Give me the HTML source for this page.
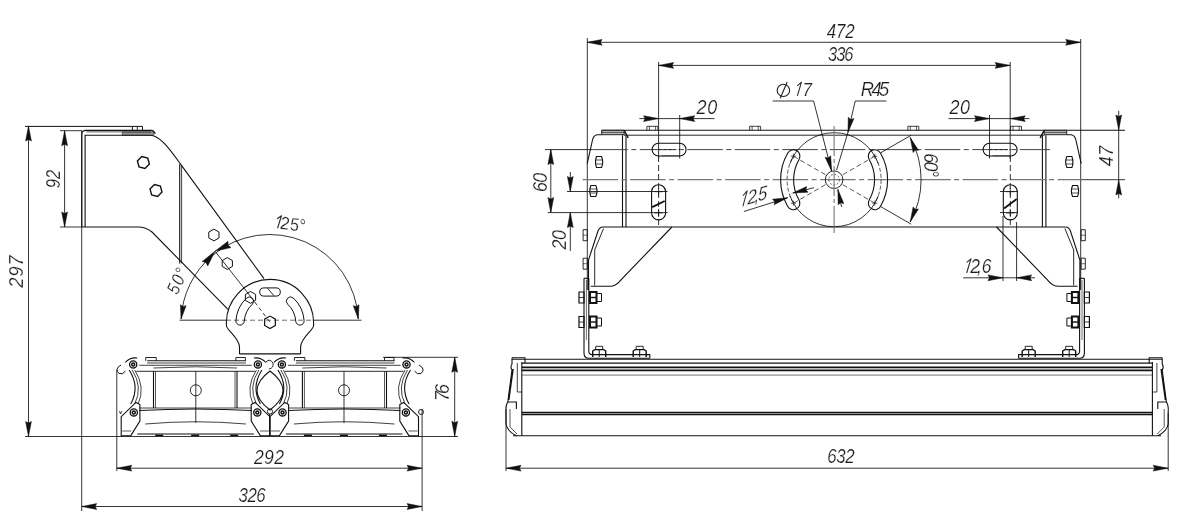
<!DOCTYPE html>
<html><head><meta charset="utf-8"><style>
html,body{margin:0;padding:0;background:#fff;}
svg{display:block;will-change:transform;}
</style></head><body>
<svg width="1200" height="519" viewBox="0 0 1200 519">
<rect width="1200" height="519" fill="#fff"/>
<line x1="25.00" y1="126.40" x2="132.40" y2="126.40" stroke="#111" stroke-width="1.0"/>
<line x1="28.50" y1="126.00" x2="28.50" y2="436.50" stroke="#111" stroke-width="0.85"/>
<path d="M28.50,126.00 L25.60,141.00 L28.50,139.50 L31.40,141.00 Z" fill="#111" stroke="#111" stroke-width="0.5"/>
<path d="M28.50,436.50 L31.40,421.50 L28.50,423.00 L25.60,421.50 Z" fill="#111" stroke="#111" stroke-width="0.5"/>
<line x1="25.00" y1="436.50" x2="458.00" y2="436.50" stroke="#111" stroke-width="0.85"/>
<text transform="translate(16.20,271.50) rotate(-90) scale(0.95,1)" x="0" y="7.00" font-size="19.55" text-anchor="middle" textLength="34.1" lengthAdjust="spacing" font-family="Liberation Sans, sans-serif" font-style="italic" fill="#1c1c1c" stroke="#fff" stroke-width="0.2">297</text>
<line x1="60.00" y1="130.70" x2="82.00" y2="130.70" stroke="#111" stroke-width="0.85"/>
<line x1="60.00" y1="227.00" x2="82.00" y2="227.00" stroke="#111" stroke-width="0.85"/>
<line x1="64.60" y1="130.70" x2="64.60" y2="227.00" stroke="#111" stroke-width="0.85"/>
<path d="M64.60,130.70 L61.70,145.70 L64.60,144.20 L67.50,145.70 Z" fill="#111" stroke="#111" stroke-width="0.5"/>
<path d="M64.60,227.00 L67.50,212.00 L64.60,213.50 L61.70,212.00 Z" fill="#111" stroke="#111" stroke-width="0.5"/>
<text transform="translate(52.70,179.10) rotate(-90) scale(0.84,1)" x="0" y="7.00" font-size="19.55" text-anchor="middle" textLength="21.7" lengthAdjust="spacing" font-family="Liberation Sans, sans-serif" font-style="italic" fill="#1c1c1c" stroke="#fff" stroke-width="0.2">92</text>
<line x1="81.70" y1="130.70" x2="81.70" y2="511.00" stroke="#111" stroke-width="0.85"/>
<path d="M132.40,130.40 L132.40,126.40 L142.50,126.40 L142.50,130.40" stroke="#111" stroke-width="1.0" fill="none"/>
<line x1="137.30" y1="126.40" x2="137.30" y2="130.40" stroke="#111" stroke-width="0.9"/>
<path d="M122.3,131.9 L153.8,131.9 L153.8,135.3 L122.3,135.3 Z" stroke="#111" stroke-width="0.5" fill="#999"/>
<line x1="86.30" y1="131.90" x2="151.00" y2="131.90" stroke="#111" stroke-width="0.7"/>
<path d="M81.8,227 L81.8,134 Q82,130.4 86,130.4 L151.5,130.4 Q154,130.6 155.3,133.8" stroke="#111" stroke-width="1.1" fill="none"/>
<path d="M85.1,227 L85.1,135.3 L150,135.3 C160,135.3 170,149.7 180,163.4 L264,278.6" stroke="#111" stroke-width="1.1" fill="none"/>
<line x1="179.70" y1="164.30" x2="179.70" y2="263.40" stroke="#111" stroke-width="1.1"/>
<line x1="181.60" y1="166.00" x2="181.60" y2="263.40" stroke="#111" stroke-width="0.8"/>
<path d="M82,227 L138,227 Q146,227 152,232 L228,309.3" stroke="#111" stroke-width="1.1" fill="none"/>
<path d="M149.39,164.10 L145.00,168.49 L139.02,166.88 L137.41,160.90 L141.80,156.51 L147.78,158.12 Z" stroke="#111" stroke-width="1.4" fill="none"/>
<path d="M161.99,192.10 L157.60,196.49 L151.62,194.88 L150.01,188.90 L154.40,184.51 L160.38,186.12 Z" stroke="#111" stroke-width="1.4" fill="none"/>
<path d="M219.01,237.95 L213.90,240.90 L208.79,237.95 L208.79,232.05 L213.90,229.10 L219.01,232.05 Z" stroke="#111" stroke-width="1.0" fill="none"/>
<path d="M232.41,266.45 L227.30,269.40 L222.19,266.45 L222.19,260.55 L227.30,257.60 L232.41,260.55 Z" stroke="#111" stroke-width="1.0" fill="none"/>
<path d="M255.61,300.35 L250.50,303.30 L245.39,300.35 L245.39,294.45 L250.50,291.50 L255.61,294.45 Z" stroke="#111" stroke-width="1.0" fill="none"/>
<line x1="215.00" y1="251.20" x2="250.50" y2="296.40" stroke="#111" stroke-width="0.85"/>
<line x1="250.50" y1="296.40" x2="270.00" y2="322.30" stroke="#111" stroke-width="0.85" stroke-dasharray="4,3"/>
<path d="M181.10,319.02 A88.70,88.70 0 0 1 212.09,255.75" stroke="#111" stroke-width="0.85" fill="none"/>
<path d="M212.09,255.75 A88.70,88.70 0 0 1 358.30,319.02" stroke="#111" stroke-width="0.85" fill="none"/>
<path d="M215.00,251.20 L202.27,261.51 L206.01,262.45 L207.74,265.88 Z" fill="#111" stroke="#111" stroke-width="0.5"/>
<path d="M215.00,251.20 L230.98,247.62 L228.05,245.12 L228.03,241.27 Z" fill="#111" stroke="#111" stroke-width="0.5"/>
<path d="M181.10,319.02 L186.12,305.63 L183.04,306.57 L180.39,304.74 Z" fill="#111" stroke="#111" stroke-width="0.5"/>
<path d="M358.30,319.02 L359.01,304.74 L356.36,306.57 L353.28,305.63 Z" fill="#111" stroke="#111" stroke-width="0.5"/>
<line x1="179.50" y1="320.20" x2="226.00" y2="320.20" stroke="#111" stroke-width="0.85"/>
<line x1="226.00" y1="320.20" x2="314.00" y2="320.20" stroke="#555" stroke-width="0.85" stroke-dasharray="5,3"/>
<line x1="314.00" y1="320.20" x2="361.50" y2="320.20" stroke="#111" stroke-width="0.85"/>
<text transform="translate(177.00,280.90) rotate(-66) scale(0.85,1)" x="0" y="6.50" font-size="18.16" text-anchor="middle" textLength="30.9" lengthAdjust="spacing" font-family="Liberation Sans, sans-serif" font-style="italic" fill="#1c1c1c" stroke="#fff" stroke-width="0.2">50°</text>
<g transform="translate(290.50,223.60) rotate(0) skewY(8)"><path d="M-12.95,6.50 L-9.05,-6.50 L-13.25,-2.90" stroke="#2a2a2a" stroke-width="1.1" fill="none" stroke-linejoin="round"/><text transform="translate(-5.60,0) scale(0.9,1)" x="0" y="6.50" font-size="18.16" text-anchor="middle" font-family="Liberation Sans, sans-serif" font-style="italic" fill="#1c1c1c" stroke="#fff" stroke-width="0.2">2</text><text transform="translate(3.80,0) scale(0.9,1)" x="0" y="6.50" font-size="18.16" text-anchor="middle" font-family="Liberation Sans, sans-serif" font-style="italic" fill="#1c1c1c" stroke="#fff" stroke-width="0.2">5</text><text transform="translate(11.80,0) scale(0.9,1)" x="0" y="6.50" font-size="18.16" text-anchor="middle" font-family="Liberation Sans, sans-serif" font-style="italic" fill="#1c1c1c" stroke="#fff" stroke-width="0.2">°</text></g>
<path d="M239.5,354 L239.5,347 C239.5,338 226.80,330 226.50,325.97 A43.6,43.6 0 1 1 313.50,325.97 C313.20,330 300.6,338 300.6,347 L300.6,354" stroke="#111" stroke-width="1.1" fill="none"/>
<line x1="239.50" y1="353.90" x2="300.60" y2="353.90" stroke="#111" stroke-width="1.1"/>
<path d="M263.80,296.10 L276.20,296.10 A4.1,4.1 0 0 0 276.20,287.90 L263.80,287.90 A4.1,4.1 0 0 0 263.80,296.10 Z" stroke="#111" stroke-width="1.0" fill="none"/>
<line x1="267.50" y1="288.20" x2="274.00" y2="295.80" stroke="#111" stroke-width="0.9"/>
<path d="M246.68,297.99 A34.20,34.20 0 0 0 235.88,320.61 A4.20,4.20 0 0 0 244.26,321.20 A25.80,25.80 0 0 1 252.40,304.13 A4.20,4.20 0 0 0 246.68,297.99 Z" stroke="#111" stroke-width="1.0" fill="none"/>
<path d="M304.12,320.61 A34.20,34.20 0 0 0 293.32,297.99 A4.20,4.20 0 0 0 287.60,304.13 A25.80,25.80 0 0 1 295.74,321.20 A4.20,4.20 0 0 0 304.12,320.61 Z" stroke="#111" stroke-width="1.0" fill="none"/>
<path d="M275.37,325.40 L270.00,328.50 L264.63,325.40 L264.63,319.20 L270.00,316.10 L275.37,319.20 Z" stroke="#111" stroke-width="1.2" fill="none"/>
<line x1="147.20" y1="360.80" x2="245.90" y2="360.80" stroke="#111" stroke-width="1.1"/>
<line x1="147.20" y1="363.00" x2="245.90" y2="363.00" stroke="#111" stroke-width="0.8"/>
<path d="M139.2,365.3 L251.89999999999998,365.3" stroke="#111" stroke-width="0.8" fill="none"/>
<path d="M153.5,368 Q195.8,365.5 237,368" stroke="#111" stroke-width="0.8" fill="none"/>
<line x1="136.20" y1="371.30" x2="254.90" y2="371.30" stroke="#111" stroke-width="0.9"/>
<line x1="153.50" y1="371.30" x2="153.50" y2="408.00" stroke="#111" stroke-width="1.1"/>
<line x1="155.50" y1="371.30" x2="155.50" y2="408.00" stroke="#111" stroke-width="0.7"/>
<line x1="237.00" y1="371.30" x2="237.00" y2="408.00" stroke="#111" stroke-width="1.1"/>
<line x1="235.00" y1="371.30" x2="235.00" y2="408.00" stroke="#111" stroke-width="0.7"/>
<line x1="195.80" y1="371.30" x2="195.80" y2="423.00" stroke="#111" stroke-width="0.85"/>
<circle cx="195.80" cy="390.30" r="5.50" stroke="#111" stroke-width="0.9" fill="none"/>
<path d="M139.2,408 L251.89999999999998,408" stroke="#111" stroke-width="0.8" fill="none"/>
<path d="M139.2,410.5 Q195.8,407.5 251.89999999999998,410.5" stroke="#111" stroke-width="1.1" fill="none"/>
<path d="M145.2,424 Q195.8,419.5 245.89999999999998,424" stroke="#111" stroke-width="0.8" fill="none"/>
<line x1="137.20" y1="434.00" x2="253.90" y2="434.00" stroke="#111" stroke-width="1.1"/>
<path d="M129.2,370 Q140.2,387 130.7,404" stroke="#111" stroke-width="1.1" fill="none"/>
<path d="M132.2,370 Q143.2,387 134.7,404" stroke="#111" stroke-width="0.8" fill="none"/>
<path d="M134.7,370 Q145.7,387 138.2,404" stroke="#111" stroke-width="0.8" fill="none"/>
<path d="M261.9,370 Q250.89999999999998,387 260.4,404" stroke="#111" stroke-width="1.1" fill="none"/>
<path d="M258.9,370 Q247.89999999999998,387 256.4,404" stroke="#111" stroke-width="0.8" fill="none"/>
<path d="M256.4,370 Q245.39999999999998,387 252.89999999999998,404" stroke="#111" stroke-width="0.8" fill="none"/>
<circle cx="133.20" cy="364.40" r="3.60" stroke="#111" stroke-width="1.3" fill="none"/>
<circle cx="133.20" cy="364.40" r="1.50" stroke="#111" stroke-width="1.5" fill="none"/>
<circle cx="133.80" cy="412.40" r="3.60" stroke="#111" stroke-width="1.3" fill="none"/>
<circle cx="133.80" cy="412.40" r="1.50" stroke="#111" stroke-width="1.5" fill="none"/>
<circle cx="257.90" cy="364.40" r="3.60" stroke="#111" stroke-width="1.3" fill="none"/>
<circle cx="257.90" cy="364.40" r="1.50" stroke="#111" stroke-width="1.5" fill="none"/>
<circle cx="257.30" cy="412.40" r="3.60" stroke="#111" stroke-width="1.3" fill="none"/>
<circle cx="257.30" cy="412.40" r="1.50" stroke="#111" stroke-width="1.5" fill="none"/>
<path d="M121.20,435.80 L121.20,416.70 L136.00,402.40 L139.90,404.50 L139.90,421.00 L130.80,435.60 Z" stroke="#111" stroke-width="1.1" fill="none"/>
<path d="M269.90,435.80 L269.90,416.70 L255.10,402.40 L251.20,404.50 L251.20,421.00 L260.30,435.60 Z" stroke="#111" stroke-width="1.1" fill="none"/>
<line x1="122.20" y1="431.00" x2="131.20" y2="431.00" stroke="#111" stroke-width="0.7"/>
<line x1="268.90" y1="431.00" x2="259.90" y2="431.00" stroke="#111" stroke-width="0.7"/>
<path d="M145.70,360.80 L145.70,357.50 L156.20,357.50 L156.20,360.80" stroke="#111" stroke-width="0.9" fill="none"/>
<path d="M245.40,360.80 L245.40,357.50 L235.90,357.50 L235.90,360.80" stroke="#111" stroke-width="0.9" fill="none"/>
<path d="M125.19999999999999,362.5 Q130.2,357 137.2,358" stroke="#111" stroke-width="1.1" fill="none"/>
<path d="M265.9,362.5 Q260.9,357 253.89999999999998,358" stroke="#111" stroke-width="1.1" fill="none"/>
<line x1="155.20" y1="435.30" x2="163.20" y2="435.30" stroke="#111" stroke-width="1.5"/>
<line x1="191.20" y1="435.30" x2="199.20" y2="435.30" stroke="#111" stroke-width="1.5"/>
<line x1="230.20" y1="435.30" x2="238.20" y2="435.30" stroke="#111" stroke-width="1.5"/>
<line x1="295.90" y1="360.80" x2="394.50" y2="360.80" stroke="#111" stroke-width="1.1"/>
<line x1="295.90" y1="363.00" x2="394.50" y2="363.00" stroke="#111" stroke-width="0.8"/>
<path d="M287.9,365.3 L400.5,365.3" stroke="#111" stroke-width="0.8" fill="none"/>
<path d="M302.4,368 Q344,365.5 386.5,368" stroke="#111" stroke-width="0.8" fill="none"/>
<line x1="284.90" y1="371.30" x2="403.50" y2="371.30" stroke="#111" stroke-width="0.9"/>
<line x1="302.40" y1="371.30" x2="302.40" y2="408.00" stroke="#111" stroke-width="1.1"/>
<line x1="304.40" y1="371.30" x2="304.40" y2="408.00" stroke="#111" stroke-width="0.7"/>
<line x1="386.50" y1="371.30" x2="386.50" y2="408.00" stroke="#111" stroke-width="1.1"/>
<line x1="384.50" y1="371.30" x2="384.50" y2="408.00" stroke="#111" stroke-width="0.7"/>
<line x1="344.00" y1="371.30" x2="344.00" y2="423.00" stroke="#111" stroke-width="0.85"/>
<circle cx="344.00" cy="390.30" r="5.50" stroke="#111" stroke-width="0.9" fill="none"/>
<path d="M287.9,408 L400.5,408" stroke="#111" stroke-width="0.8" fill="none"/>
<path d="M287.9,410.5 Q344,407.5 400.5,410.5" stroke="#111" stroke-width="1.1" fill="none"/>
<path d="M293.9,424 Q344,419.5 394.5,424" stroke="#111" stroke-width="0.8" fill="none"/>
<line x1="285.90" y1="434.00" x2="402.50" y2="434.00" stroke="#111" stroke-width="1.1"/>
<path d="M277.9,370 Q288.9,387 279.4,404" stroke="#111" stroke-width="1.1" fill="none"/>
<path d="M280.9,370 Q291.9,387 283.4,404" stroke="#111" stroke-width="0.8" fill="none"/>
<path d="M283.4,370 Q294.4,387 286.9,404" stroke="#111" stroke-width="0.8" fill="none"/>
<path d="M410.5,370 Q399.5,387 409.0,404" stroke="#111" stroke-width="1.1" fill="none"/>
<path d="M407.5,370 Q396.5,387 405.0,404" stroke="#111" stroke-width="0.8" fill="none"/>
<path d="M405.0,370 Q394.0,387 401.5,404" stroke="#111" stroke-width="0.8" fill="none"/>
<circle cx="281.90" cy="364.40" r="3.60" stroke="#111" stroke-width="1.3" fill="none"/>
<circle cx="281.90" cy="364.40" r="1.50" stroke="#111" stroke-width="1.5" fill="none"/>
<circle cx="282.50" cy="412.40" r="3.60" stroke="#111" stroke-width="1.3" fill="none"/>
<circle cx="282.50" cy="412.40" r="1.50" stroke="#111" stroke-width="1.5" fill="none"/>
<circle cx="406.50" cy="364.40" r="3.60" stroke="#111" stroke-width="1.3" fill="none"/>
<circle cx="406.50" cy="364.40" r="1.50" stroke="#111" stroke-width="1.5" fill="none"/>
<circle cx="405.90" cy="412.40" r="3.60" stroke="#111" stroke-width="1.3" fill="none"/>
<circle cx="405.90" cy="412.40" r="1.50" stroke="#111" stroke-width="1.5" fill="none"/>
<path d="M269.90,435.80 L269.90,416.70 L284.70,402.40 L288.60,404.50 L288.60,421.00 L279.50,435.60 Z" stroke="#111" stroke-width="1.1" fill="none"/>
<path d="M418.50,435.80 L418.50,416.70 L403.70,402.40 L399.80,404.50 L399.80,421.00 L408.90,435.60 Z" stroke="#111" stroke-width="1.1" fill="none"/>
<line x1="270.90" y1="431.00" x2="279.90" y2="431.00" stroke="#111" stroke-width="0.7"/>
<line x1="417.50" y1="431.00" x2="408.50" y2="431.00" stroke="#111" stroke-width="0.7"/>
<path d="M294.40,360.80 L294.40,357.50 L304.90,357.50 L304.90,360.80" stroke="#111" stroke-width="0.9" fill="none"/>
<path d="M394.00,360.80 L394.00,357.50 L384.50,357.50 L384.50,360.80" stroke="#111" stroke-width="0.9" fill="none"/>
<path d="M273.9,362.5 Q278.9,357 285.9,358" stroke="#111" stroke-width="1.1" fill="none"/>
<path d="M414.5,362.5 Q409.5,357 402.5,358" stroke="#111" stroke-width="1.1" fill="none"/>
<line x1="303.90" y1="435.30" x2="311.90" y2="435.30" stroke="#111" stroke-width="1.5"/>
<line x1="339.90" y1="435.30" x2="347.90" y2="435.30" stroke="#111" stroke-width="1.5"/>
<line x1="378.90" y1="435.30" x2="386.90" y2="435.30" stroke="#111" stroke-width="1.5"/>
<path d="M121,365 Q114,369 119,373.5 Q123,375 125.5,371" stroke="#111" stroke-width="1.0" fill="none"/>
<path d="M419,365 Q426,369 421,373.5 Q417,375 414.5,371" stroke="#111" stroke-width="1.0" fill="none"/>
<circle cx="421.00" cy="412.00" r="2.50" stroke="#111" stroke-width="0.9" fill="none"/>
<path d="M119.5,411 L120.5,414 L122,411" stroke="#111" stroke-width="0.8" fill="none"/>
<path d="M270,371 Q244,390.5 270,410 Q296,390.5 270,371 Z" stroke="#111" stroke-width="1.1" fill="none"/>
<path d="M266,362 Q270,358 273,363 Q274,368 269,369" stroke="#111" stroke-width="0.9" fill="none"/>
<circle cx="270.00" cy="411.50" r="2.60" stroke="#111" stroke-width="0.9" fill="none"/>
<line x1="269.60" y1="414.00" x2="269.60" y2="436.00" stroke="#111" stroke-width="1.0"/>
<line x1="116.80" y1="370.00" x2="116.80" y2="471.00" stroke="#111" stroke-width="0.85"/>
<line x1="422.10" y1="409.00" x2="422.10" y2="511.00" stroke="#111" stroke-width="0.85"/>
<line x1="383.00" y1="357.30" x2="458.00" y2="357.30" stroke="#111" stroke-width="0.85"/>
<line x1="454.70" y1="357.30" x2="454.70" y2="436.30" stroke="#111" stroke-width="0.85"/>
<path d="M454.70,357.30 L451.80,372.30 L454.70,370.80 L457.60,372.30 Z" fill="#111" stroke="#111" stroke-width="0.5"/>
<path d="M454.70,436.30 L457.60,421.30 L454.70,422.80 L451.80,421.30 Z" fill="#111" stroke="#111" stroke-width="0.5"/>
<text transform="translate(441.70,392.50) rotate(-90) scale(0.92,1)" x="0" y="7.00" font-size="19.55" text-anchor="middle" textLength="18.5" lengthAdjust="spacing" font-family="Liberation Sans, sans-serif" font-style="italic" fill="#1c1c1c" stroke="#fff" stroke-width="0.2">76</text>
<line x1="116.80" y1="468.20" x2="422.10" y2="468.20" stroke="#111" stroke-width="0.85"/>
<path d="M116.80,468.20 L131.80,471.10 L130.30,468.20 L131.80,465.30 Z" fill="#111" stroke="#111" stroke-width="0.5"/>
<path d="M422.10,468.20 L407.10,465.30 L408.60,468.20 L407.10,471.10 Z" fill="#111" stroke="#111" stroke-width="0.5"/>
<text transform="translate(269.00,456.80) rotate(0) scale(0.9,1)" x="0" y="7.00" font-size="19.55" text-anchor="middle" textLength="33.2" lengthAdjust="spacing" font-family="Liberation Sans, sans-serif" font-style="italic" fill="#1c1c1c" stroke="#fff" stroke-width="0.2">292</text>
<line x1="81.70" y1="506.50" x2="422.10" y2="506.50" stroke="#111" stroke-width="0.85"/>
<path d="M81.70,506.50 L96.70,509.40 L95.20,506.50 L96.70,503.60 Z" fill="#111" stroke="#111" stroke-width="0.5"/>
<path d="M422.10,506.50 L407.10,503.60 L408.60,506.50 L407.10,509.40 Z" fill="#111" stroke="#111" stroke-width="0.5"/>
<text transform="translate(252.10,495.10) rotate(0) scale(0.86,1)" x="0" y="7.00" font-size="19.55" text-anchor="middle" textLength="31.5" lengthAdjust="spacing" font-family="Liberation Sans, sans-serif" font-style="italic" fill="#1c1c1c" stroke="#fff" stroke-width="0.2">326</text>
<line x1="587.00" y1="42.30" x2="1080.70" y2="42.30" stroke="#111" stroke-width="0.85"/>
<path d="M587.00,42.30 L602.00,45.20 L600.50,42.30 L602.00,39.40 Z" fill="#111" stroke="#111" stroke-width="0.5"/>
<path d="M1080.70,42.30 L1065.70,39.40 L1067.20,42.30 L1065.70,45.20 Z" fill="#111" stroke="#111" stroke-width="0.5"/>
<line x1="587.30" y1="38.00" x2="587.30" y2="290.00" stroke="#111" stroke-width="0.85"/>
<line x1="1080.70" y1="39.00" x2="1080.70" y2="290.00" stroke="#111" stroke-width="0.85"/>
<text transform="translate(840.70,30.90) rotate(0) scale(0.86,1)" x="0" y="7.00" font-size="19.55" text-anchor="middle" textLength="32.3" lengthAdjust="spacing" font-family="Liberation Sans, sans-serif" font-style="italic" fill="#1c1c1c" stroke="#fff" stroke-width="0.2">472</text>
<line x1="658.60" y1="65.40" x2="1010.20" y2="65.40" stroke="#111" stroke-width="0.85"/>
<path d="M658.60,65.40 L673.60,68.30 L672.10,65.40 L673.60,62.50 Z" fill="#111" stroke="#111" stroke-width="0.5"/>
<path d="M1010.20,65.40 L995.20,62.50 L996.70,65.40 L995.20,68.30 Z" fill="#111" stroke="#111" stroke-width="0.5"/>
<line x1="658.60" y1="62.00" x2="658.60" y2="158.50" stroke="#111" stroke-width="0.85"/>
<line x1="1010.20" y1="62.00" x2="1010.20" y2="158.50" stroke="#111" stroke-width="0.85"/>
<text transform="translate(840.70,53.70) rotate(0) scale(0.84,1)" x="0" y="7.00" font-size="19.55" text-anchor="middle" textLength="30.4" lengthAdjust="spacing" font-family="Liberation Sans, sans-serif" font-style="italic" fill="#1c1c1c" stroke="#fff" stroke-width="0.2">336</text>
<line x1="639.40" y1="118.60" x2="714.50" y2="118.60" stroke="#111" stroke-width="0.85"/>
<path d="M658.60,118.60 L643.60,115.70 L645.10,118.60 L643.60,121.50 Z" fill="#111" stroke="#111" stroke-width="0.5"/>
<path d="M679.70,118.60 L694.70,121.50 L693.20,118.60 L694.70,115.70 Z" fill="#111" stroke="#111" stroke-width="0.5"/>
<line x1="679.70" y1="115.00" x2="679.70" y2="158.50" stroke="#111" stroke-width="0.85"/>
<text transform="translate(706.90,106.70) rotate(0) scale(0.92,1)" x="0" y="7.00" font-size="19.55" text-anchor="middle" textLength="22.4" lengthAdjust="spacing" font-family="Liberation Sans, sans-serif" font-style="italic" fill="#1c1c1c" stroke="#fff" stroke-width="0.2">20</text>
<line x1="948.50" y1="118.60" x2="1029.40" y2="118.60" stroke="#111" stroke-width="0.85"/>
<path d="M989.50,118.60 L974.50,115.70 L976.00,118.60 L974.50,121.50 Z" fill="#111" stroke="#111" stroke-width="0.5"/>
<path d="M1010.20,118.60 L1025.20,121.50 L1023.70,118.60 L1025.20,115.70 Z" fill="#111" stroke="#111" stroke-width="0.5"/>
<line x1="989.50" y1="115.00" x2="989.50" y2="158.50" stroke="#111" stroke-width="0.85"/>
<text transform="translate(959.80,106.70) rotate(0) scale(0.92,1)" x="0" y="7.00" font-size="19.55" text-anchor="middle" textLength="22.4" lengthAdjust="spacing" font-family="Liberation Sans, sans-serif" font-style="italic" fill="#1c1c1c" stroke="#fff" stroke-width="0.2">20</text>
<ellipse cx="783.4" cy="90.4" rx="6.2" ry="6.1" stroke="#222" stroke-width="1.1" fill="none"/>
<line x1="780.20" y1="98.30" x2="787.20" y2="82.00" stroke="#222" stroke-width="1.1"/>
<g transform="translate(803.70,89.00) rotate(0)"><path d="M-6.34,6.80 L-2.26,-6.80 L-6.46,-3.20" stroke="#2a2a2a" stroke-width="1.1" fill="none" stroke-linejoin="round"/><text transform="translate(3.60,0) scale(0.9,1)" x="0" y="6.80" font-size="18.99" text-anchor="middle" font-family="Liberation Sans, sans-serif" font-style="italic" fill="#1c1c1c" stroke="#fff" stroke-width="0.2">7</text></g>
<line x1="772.70" y1="101.00" x2="813.60" y2="101.00" stroke="#111" stroke-width="0.85"/>
<line x1="813.60" y1="101.00" x2="831.60" y2="171.00" stroke="#111" stroke-width="0.85"/>
<path d="M831.60,171.00 L830.70,155.75 L828.26,157.92 L825.08,157.18 Z" fill="#111" stroke="#111" stroke-width="0.5"/>
<line x1="841.60" y1="207.00" x2="837.90" y2="189.50" stroke="#111" stroke-width="0.85"/>
<path d="M837.90,189.50 L838.17,204.78 L840.69,202.71 L843.84,203.58 Z" fill="#111" stroke="#111" stroke-width="0.5"/>
<text transform="translate(875.00,89.00) rotate(0) scale(0.92,1)" x="0" y="7.10" font-size="19.83" text-anchor="middle" textLength="31.0" lengthAdjust="spacing" font-family="Liberation Sans, sans-serif" font-style="italic" fill="#1c1c1c" stroke="#fff" stroke-width="0.2">R45</text>
<line x1="855.20" y1="101.00" x2="886.40" y2="101.00" stroke="#111" stroke-width="0.85"/>
<line x1="855.20" y1="101.00" x2="847.90" y2="132.60" stroke="#111" stroke-width="0.85"/>
<path d="M847.90,132.60 L853.96,118.58 L850.81,119.42 L848.30,117.33 Z" fill="#111" stroke="#111" stroke-width="0.5"/>
<line x1="847.90" y1="132.60" x2="836.60" y2="170.00" stroke="#111" stroke-width="0.85"/>
<line x1="601.70" y1="130.30" x2="1125.00" y2="130.30" stroke="#111" stroke-width="1.1"/>
<line x1="624.00" y1="135.20" x2="1044.40" y2="135.20" stroke="#111" stroke-width="0.9"/>
<path d="M646.90,130.30 L646.90,126.30 L657.90,126.30 L657.90,130.30" stroke="#111" stroke-width="0.8" fill="none"/>
<line x1="649.40" y1="126.30" x2="649.40" y2="130.30" stroke="#111" stroke-width="0.7"/>
<line x1="655.60" y1="126.30" x2="655.60" y2="130.30" stroke="#111" stroke-width="0.7"/>
<path d="M1010.50,130.30 L1010.50,126.30 L1021.50,126.30 L1021.50,130.30" stroke="#111" stroke-width="0.8" fill="none"/>
<line x1="1013.00" y1="126.30" x2="1013.00" y2="130.30" stroke="#111" stroke-width="0.7"/>
<line x1="1019.20" y1="126.30" x2="1019.20" y2="130.30" stroke="#111" stroke-width="0.7"/>
<path d="M749.60,130.30 L749.60,126.30 L760.60,126.30 L760.60,130.30" stroke="#111" stroke-width="0.8" fill="none"/>
<line x1="752.10" y1="126.30" x2="752.10" y2="130.30" stroke="#111" stroke-width="0.7"/>
<line x1="758.30" y1="126.30" x2="758.30" y2="130.30" stroke="#111" stroke-width="0.7"/>
<path d="M907.80,130.30 L907.80,126.30 L918.80,126.30 L918.80,130.30" stroke="#111" stroke-width="0.8" fill="none"/>
<line x1="910.30" y1="126.30" x2="910.30" y2="130.30" stroke="#111" stroke-width="0.7"/>
<line x1="916.50" y1="126.30" x2="916.50" y2="130.30" stroke="#111" stroke-width="0.7"/>
<path d="M601.7,130.3 L624.2,130.3 L624.2,134.7 L601.7,134.7 Z" stroke="#111" stroke-width="0.9" fill="#bbb"/>
<line x1="601.70" y1="132.40" x2="624.20" y2="132.40" stroke="#111" stroke-width="0.6"/>
<path d="M624.2,130.3 L628.3,138" stroke="#111" stroke-width="1.4" fill="none"/>
<path d="M601.7,134.7 L597,134.7 Q593.5,135.5 592.5,140 L587.2,163.6" stroke="#111" stroke-width="1.1" fill="none"/>
<line x1="622.50" y1="135.20" x2="622.50" y2="227.00" stroke="#111" stroke-width="1.1"/>
<line x1="626.00" y1="135.20" x2="626.00" y2="227.00" stroke="#111" stroke-width="1.1"/>
<path d="M588.5,290 L588.5,260 L598,231 Q599.5,227 603,227" stroke="#111" stroke-width="1.1" fill="none"/>
<path d="M603.5,228.5 L594.7,250 L594.7,285.5" stroke="#111" stroke-width="0.9" fill="none"/>
<path d="M671.9,227 L621,279.8 Q616,286.3 610,286.3 L590.8,286.3" stroke="#111" stroke-width="1.1" fill="none"/>
<path d="M583.10,229.70 L587.30,229.70 L587.30,240.70 L583.10,240.70 Z" stroke="#111" stroke-width="0.9" fill="none"/>
<line x1="583.10" y1="235.20" x2="587.30" y2="235.20" stroke="#111" stroke-width="0.6"/>
<path d="M583.10,258.20 L587.30,258.20 L587.30,269.20 L583.10,269.20 Z" stroke="#111" stroke-width="0.9" fill="none"/>
<line x1="583.10" y1="263.70" x2="587.30" y2="263.70" stroke="#111" stroke-width="0.6"/>
<path d="M584,278.3 L588.8,278.3" stroke="#111" stroke-width="1.1" fill="none"/>
<path d="M584,278.3 L584,353 Q584,358.3 589,358.3 L649.8,358.3" stroke="#111" stroke-width="1.1" fill="none"/>
<path d="M588.8,278.3 L588.8,351 Q588.8,354.6 592,354.6 L649.8,354.6 L649.8,358.3" stroke="#111" stroke-width="1.1" fill="none"/>
<line x1="586.40" y1="280.00" x2="586.40" y2="340.00" stroke="#111" stroke-width="0.6"/>
<path d="M579.00,292.00 L584.00,292.00 L584.00,303.00 L579.00,303.00 Z" stroke="#111" stroke-width="1.2" fill="none"/>
<line x1="579.00" y1="297.50" x2="584.00" y2="297.50" stroke="#111" stroke-width="0.8"/>
<path d="M590.00,292.00 L596.50,292.00 L596.50,303.00 L590.00,303.00 Z" stroke="#111" stroke-width="2.0" fill="none"/>
<line x1="590.00" y1="297.50" x2="596.50" y2="297.50" stroke="#111" stroke-width="1.4"/>
<path d="M596.50,293.50 L601.50,293.50 L601.50,301.50 L596.50,301.50 Z" stroke="#111" stroke-width="1.0" fill="none"/>
<path d="M579.00,316.50 L584.00,316.50 L584.00,327.50 L579.00,327.50 Z" stroke="#111" stroke-width="1.2" fill="none"/>
<line x1="579.00" y1="322.00" x2="584.00" y2="322.00" stroke="#111" stroke-width="0.8"/>
<path d="M590.00,316.50 L596.50,316.50 L596.50,327.50 L590.00,327.50 Z" stroke="#111" stroke-width="2.0" fill="none"/>
<line x1="590.00" y1="322.00" x2="596.50" y2="322.00" stroke="#111" stroke-width="1.4"/>
<path d="M596.50,318.00 L601.50,318.00 L601.50,326.00 L596.50,326.00 Z" stroke="#111" stroke-width="1.0" fill="none"/>
<path d="M592.70,357.00 L592.70,351.00 L594.70,349.60 L603.70,349.60 L605.70,351.00 L605.70,357.00" stroke="#111" stroke-width="1.4" fill="none"/>
<line x1="599.20" y1="349.60" x2="599.20" y2="357.00" stroke="#111" stroke-width="1.0"/>
<path d="M595.70,349.60 L595.70,346.30 L602.70,346.30 L602.70,349.60" stroke="#111" stroke-width="0.9" fill="none"/>
<path d="M633.20,357.00 L633.20,351.00 L635.20,349.60 L644.20,349.60 L646.20,351.00 L646.20,357.00" stroke="#111" stroke-width="1.4" fill="none"/>
<line x1="639.70" y1="349.60" x2="639.70" y2="357.00" stroke="#111" stroke-width="1.0"/>
<path d="M636.20,349.60 L636.20,346.30 L643.20,346.30 L643.20,349.60" stroke="#111" stroke-width="0.9" fill="none"/>
<path d="M596.5,156.5 L601.5,156.5 Q604.0,162 601.5,167.5 L596.5,167.5 Q594.5,162 596.5,156.5 Z" stroke="#111" stroke-width="1.1" fill="none"/>
<line x1="595.00" y1="160.00" x2="603.00" y2="160.00" stroke="#111" stroke-width="0.7"/>
<line x1="595.00" y1="164.00" x2="603.00" y2="164.00" stroke="#111" stroke-width="0.7"/>
<path d="M590.8,185.5 L595.8,185.5 Q598.3,191 595.8,196.5 L590.8,196.5 Q588.8,191 590.8,185.5 Z" stroke="#111" stroke-width="1.1" fill="none"/>
<line x1="589.30" y1="189.00" x2="597.30" y2="189.00" stroke="#111" stroke-width="0.7"/>
<line x1="589.30" y1="193.00" x2="597.30" y2="193.00" stroke="#111" stroke-width="0.7"/>
<path d="M1044.2,130.3 L1066.7,130.3 L1066.7,134.7 L1044.2,134.7 Z" stroke="#111" stroke-width="0.9" fill="#bbb"/>
<line x1="1044.20" y1="132.40" x2="1066.70" y2="132.40" stroke="#111" stroke-width="0.6"/>
<path d="M1044.2,130.3 L1040.1,138" stroke="#111" stroke-width="1.4" fill="none"/>
<path d="M1066.7,134.7 L1071.4,134.7 Q1074.9,135.5 1075.9,140 L1081.2,163.6" stroke="#111" stroke-width="1.1" fill="none"/>
<line x1="1045.90" y1="135.20" x2="1045.90" y2="227.00" stroke="#111" stroke-width="1.1"/>
<line x1="1042.40" y1="135.20" x2="1042.40" y2="227.00" stroke="#111" stroke-width="1.1"/>
<path d="M1079.9,290 L1079.9,260 L1070.4,231 Q1068.9,227 1065.4,227" stroke="#111" stroke-width="1.1" fill="none"/>
<path d="M1064.9,228.5 L1073.7,250 L1073.7,285.5" stroke="#111" stroke-width="0.9" fill="none"/>
<path d="M996.5,227 L1047.4,279.8 Q1052.4,286.3 1058.4,286.3 L1077.6,286.3" stroke="#111" stroke-width="1.1" fill="none"/>
<path d="M1085.30,229.70 L1081.10,229.70 L1081.10,240.70 L1085.30,240.70 Z" stroke="#111" stroke-width="0.9" fill="none"/>
<line x1="1085.30" y1="235.20" x2="1081.10" y2="235.20" stroke="#111" stroke-width="0.6"/>
<path d="M1085.30,258.20 L1081.10,258.20 L1081.10,269.20 L1085.30,269.20 Z" stroke="#111" stroke-width="0.9" fill="none"/>
<line x1="1085.30" y1="263.70" x2="1081.10" y2="263.70" stroke="#111" stroke-width="0.6"/>
<path d="M1084.4,278.3 L1079.6,278.3" stroke="#111" stroke-width="1.1" fill="none"/>
<path d="M1084.4,278.3 L1084.4,353 Q1084.4,358.3 1079.4,358.3 L1018.6,358.3" stroke="#111" stroke-width="1.1" fill="none"/>
<path d="M1079.6,278.3 L1079.6,351 Q1079.6,354.6 1076.4,354.6 L1018.6,354.6 L1018.6,358.3" stroke="#111" stroke-width="1.1" fill="none"/>
<line x1="1082.00" y1="280.00" x2="1082.00" y2="340.00" stroke="#111" stroke-width="0.6"/>
<path d="M1089.40,292.00 L1084.40,292.00 L1084.40,303.00 L1089.40,303.00 Z" stroke="#111" stroke-width="1.2" fill="none"/>
<line x1="1089.40" y1="297.50" x2="1084.40" y2="297.50" stroke="#111" stroke-width="0.8"/>
<path d="M1078.40,292.00 L1071.90,292.00 L1071.90,303.00 L1078.40,303.00 Z" stroke="#111" stroke-width="2.0" fill="none"/>
<line x1="1078.40" y1="297.50" x2="1071.90" y2="297.50" stroke="#111" stroke-width="1.4"/>
<path d="M1071.90,293.50 L1066.90,293.50 L1066.90,301.50 L1071.90,301.50 Z" stroke="#111" stroke-width="1.0" fill="none"/>
<path d="M1089.40,316.50 L1084.40,316.50 L1084.40,327.50 L1089.40,327.50 Z" stroke="#111" stroke-width="1.2" fill="none"/>
<line x1="1089.40" y1="322.00" x2="1084.40" y2="322.00" stroke="#111" stroke-width="0.8"/>
<path d="M1078.40,316.50 L1071.90,316.50 L1071.90,327.50 L1078.40,327.50 Z" stroke="#111" stroke-width="2.0" fill="none"/>
<line x1="1078.40" y1="322.00" x2="1071.90" y2="322.00" stroke="#111" stroke-width="1.4"/>
<path d="M1071.90,318.00 L1066.90,318.00 L1066.90,326.00 L1071.90,326.00 Z" stroke="#111" stroke-width="1.0" fill="none"/>
<path d="M1075.70,357.00 L1075.70,351.00 L1073.70,349.60 L1064.70,349.60 L1062.70,351.00 L1062.70,357.00" stroke="#111" stroke-width="1.4" fill="none"/>
<line x1="1069.20" y1="349.60" x2="1069.20" y2="357.00" stroke="#111" stroke-width="1.0"/>
<path d="M1072.70,349.60 L1072.70,346.30 L1065.70,346.30 L1065.70,349.60" stroke="#111" stroke-width="0.9" fill="none"/>
<path d="M1035.20,357.00 L1035.20,351.00 L1033.20,349.60 L1024.20,349.60 L1022.20,351.00 L1022.20,357.00" stroke="#111" stroke-width="1.4" fill="none"/>
<line x1="1028.70" y1="349.60" x2="1028.70" y2="357.00" stroke="#111" stroke-width="1.0"/>
<path d="M1032.20,349.60 L1032.20,346.30 L1025.20,346.30 L1025.20,349.60" stroke="#111" stroke-width="0.9" fill="none"/>
<path d="M1071.9,156.5 L1066.9,156.5 Q1064.4,162 1066.9,167.5 L1071.9,167.5 Q1073.9,162 1071.9,156.5 Z" stroke="#111" stroke-width="1.1" fill="none"/>
<line x1="1073.40" y1="160.00" x2="1065.40" y2="160.00" stroke="#111" stroke-width="0.7"/>
<line x1="1073.40" y1="164.00" x2="1065.40" y2="164.00" stroke="#111" stroke-width="0.7"/>
<path d="M1077.6,185.5 L1072.6,185.5 Q1070.1,191 1072.6,196.5 L1077.6,196.5 Q1079.6,191 1077.6,185.5 Z" stroke="#111" stroke-width="1.1" fill="none"/>
<line x1="1079.10" y1="189.00" x2="1071.10" y2="189.00" stroke="#111" stroke-width="0.7"/>
<line x1="1079.10" y1="193.00" x2="1071.10" y2="193.00" stroke="#111" stroke-width="0.7"/>
<line x1="603.00" y1="227.00" x2="1065.40" y2="227.00" stroke="#111" stroke-width="1.1"/>
<line x1="545.00" y1="149.60" x2="592.30" y2="149.60" stroke="#111" stroke-width="0.85"/>
<line x1="592.30" y1="149.60" x2="1050.00" y2="149.60" stroke="#444" stroke-width="1.0" stroke-dasharray="35.5,3.5,5,3.5"/>
<line x1="582.60" y1="179.70" x2="1081.00" y2="179.70" stroke="#777" stroke-width="1.2" stroke-dasharray="35.5,3.5,5,3.5"/>
<line x1="1081.00" y1="179.70" x2="1125.00" y2="179.70" stroke="#111" stroke-width="0.85"/>
<line x1="547.60" y1="212.60" x2="667.60" y2="212.60" stroke="#111" stroke-width="0.85"/>
<line x1="567.00" y1="191.50" x2="667.60" y2="191.50" stroke="#111" stroke-width="0.85"/>
<line x1="1000.00" y1="191.50" x2="1018.00" y2="191.50" stroke="#111" stroke-width="0.85"/>
<line x1="1000.00" y1="212.60" x2="1018.00" y2="212.60" stroke="#111" stroke-width="0.85"/>
<line x1="550.80" y1="149.60" x2="550.80" y2="212.60" stroke="#111" stroke-width="0.85"/>
<path d="M550.80,149.60 L547.90,164.60 L550.80,163.10 L553.70,164.60 Z" fill="#111" stroke="#111" stroke-width="0.5"/>
<path d="M550.80,212.60 L553.70,197.60 L550.80,199.10 L547.90,197.60 Z" fill="#111" stroke="#111" stroke-width="0.5"/>
<text transform="translate(539.60,182.40) rotate(-90) scale(0.92,1)" x="0" y="7.00" font-size="19.55" text-anchor="middle" textLength="21.1" lengthAdjust="spacing" font-family="Liberation Sans, sans-serif" font-style="italic" fill="#1c1c1c" stroke="#fff" stroke-width="0.2">60</text>
<line x1="570.30" y1="172.00" x2="570.30" y2="191.50" stroke="#111" stroke-width="0.85"/>
<path d="M570.30,191.50 L573.20,176.50 L570.30,178.00 L567.40,176.50 Z" fill="#111" stroke="#111" stroke-width="0.5"/>
<line x1="570.30" y1="212.60" x2="570.30" y2="251.00" stroke="#111" stroke-width="0.85"/>
<path d="M570.30,212.60 L567.40,227.60 L570.30,226.10 L573.20,227.60 Z" fill="#111" stroke="#111" stroke-width="0.5"/>
<text transform="translate(558.70,239.70) rotate(-90) scale(0.92,1)" x="0" y="7.00" font-size="19.55" text-anchor="middle" textLength="21.1" lengthAdjust="spacing" font-family="Liberation Sans, sans-serif" font-style="italic" fill="#1c1c1c" stroke="#fff" stroke-width="0.2">20</text>
<line x1="1118.70" y1="110.80" x2="1118.70" y2="198.30" stroke="#111" stroke-width="0.85"/>
<path d="M1118.70,130.00 L1121.60,115.00 L1118.70,116.50 L1115.80,115.00 Z" fill="#111" stroke="#111" stroke-width="0.5"/>
<path d="M1118.70,180.00 L1115.80,195.00 L1118.70,193.50 L1121.60,195.00 Z" fill="#111" stroke="#111" stroke-width="0.5"/>
<text transform="translate(1106.20,156.00) rotate(-90) scale(0.92,1)" x="0" y="7.00" font-size="19.55" text-anchor="middle" textLength="22.5" lengthAdjust="spacing" font-family="Liberation Sans, sans-serif" font-style="italic" fill="#1c1c1c" stroke="#fff" stroke-width="0.2">47</text>
<path d="M658.50,156.00 L679.70,156.00 A6.4,6.4 0 0 0 679.70,143.20 L658.50,143.20 A6.4,6.4 0 0 0 658.50,156.00 Z" stroke="#111" stroke-width="1.1" fill="none"/>
<line x1="658.50" y1="149.60" x2="679.70" y2="149.60" stroke="#111" stroke-width="0.8" stroke-dasharray="3,2"/>
<line x1="661.50" y1="155.80" x2="679.50" y2="155.80" stroke="#111" stroke-width="0.6"/>
<path d="M651.60,191.70 L651.60,212.90 A7,7 0 0 0 665.60,212.90 L665.60,191.70 A7,7 0 0 0 651.60,191.70 Z" stroke="#111" stroke-width="1.1" fill="none"/>
<line x1="658.60" y1="156.00" x2="658.60" y2="225.00" stroke="#111" stroke-width="0.85" stroke-dasharray="6,3"/>
<line x1="654.60" y1="191.70" x2="662.60" y2="191.70" stroke="#111" stroke-width="0.8"/>
<line x1="658.60" y1="187.70" x2="658.60" y2="195.70" stroke="#111" stroke-width="0.8"/>
<line x1="654.60" y1="212.90" x2="662.60" y2="212.90" stroke="#111" stroke-width="0.8"/>
<line x1="658.60" y1="208.90" x2="658.60" y2="216.90" stroke="#111" stroke-width="0.8"/>
<line x1="652.20" y1="207.10" x2="664.70" y2="201.00" stroke="#111" stroke-width="1.8"/>
<path d="M989.50,156.00 L1010.70,156.00 A6.4,6.4 0 0 0 1010.70,143.20 L989.50,143.20 A6.4,6.4 0 0 0 989.50,156.00 Z" stroke="#111" stroke-width="1.1" fill="none"/>
<line x1="989.50" y1="149.60" x2="1010.70" y2="149.60" stroke="#111" stroke-width="0.8" stroke-dasharray="3,2"/>
<line x1="992.50" y1="155.80" x2="1010.50" y2="155.80" stroke="#111" stroke-width="0.6"/>
<path d="M1003.30,191.70 L1003.30,212.90 A7,7 0 0 0 1017.30,212.90 L1017.30,191.70 A7,7 0 0 0 1003.30,191.70 Z" stroke="#111" stroke-width="1.1" fill="none"/>
<line x1="1010.30" y1="156.00" x2="1010.30" y2="225.00" stroke="#111" stroke-width="0.85" stroke-dasharray="6,3"/>
<line x1="1006.30" y1="191.70" x2="1014.30" y2="191.70" stroke="#111" stroke-width="0.8"/>
<line x1="1010.30" y1="187.70" x2="1010.30" y2="195.70" stroke="#111" stroke-width="0.8"/>
<line x1="1006.30" y1="212.90" x2="1014.30" y2="212.90" stroke="#111" stroke-width="0.8"/>
<line x1="1010.30" y1="208.90" x2="1010.30" y2="216.90" stroke="#111" stroke-width="0.8"/>
<line x1="1004.00" y1="208.50" x2="1016.70" y2="199.00" stroke="#111" stroke-width="1.8"/>
<path d="M878.27,163.63 A47.00,47.00 0 0 0 789.93,163.63" stroke="#111" stroke-width="0.85" fill="none"/>
<path d="M789.93,195.77 A47.00,47.00 0 0 0 878.27,195.77" stroke="#111" stroke-width="0.85" fill="none"/>
<circle cx="834.10" cy="179.70" r="8.80" stroke="#111" stroke-width="0.9" fill="none"/>
<circle cx="834.10" cy="179.70" r="5.30" stroke="#111" stroke-width="0.6" fill="none" stroke-dasharray="2,1.5"/>
<line x1="834.10" y1="126.00" x2="834.10" y2="233.00" stroke="#777" stroke-width="1.1" stroke-dasharray="30,3,4,3"/>
<path d="M787.77,152.95 A53.50,53.50 0 0 0 787.77,206.45 A6.50,6.50 0 0 0 799.03,199.95 A40.50,40.50 0 0 1 799.03,159.45 A6.50,6.50 0 0 0 787.77,152.95 Z" stroke="#111" stroke-width="1.1" fill="none"/>
<path d="M880.43,206.45 A53.50,53.50 0 0 0 880.43,152.95 A6.50,6.50 0 0 0 869.17,159.45 A40.50,40.50 0 0 1 869.17,199.95 A6.50,6.50 0 0 0 880.43,206.45 Z" stroke="#111" stroke-width="1.1" fill="none"/>
<path d="M792.22,158.36 A47.00,47.00 0 0 0 792.22,201.04" stroke="#111" stroke-width="0.7" fill="none" stroke-dasharray="4,2"/>
<path d="M875.98,201.04 A47.00,47.00 0 0 0 875.98,158.36" stroke="#111" stroke-width="0.7" fill="none" stroke-dasharray="4,2"/>
<line x1="790.90" y1="156.20" x2="795.90" y2="156.20" stroke="#111" stroke-width="0.7"/>
<line x1="793.40" y1="153.70" x2="793.40" y2="158.70" stroke="#111" stroke-width="0.7"/>
<line x1="825.44" y1="174.70" x2="793.40" y2="156.20" stroke="#111" stroke-width="0.7" stroke-dasharray="5,3"/>
<line x1="790.90" y1="203.20" x2="795.90" y2="203.20" stroke="#111" stroke-width="0.7"/>
<line x1="793.40" y1="200.70" x2="793.40" y2="205.70" stroke="#111" stroke-width="0.7"/>
<line x1="825.44" y1="184.70" x2="793.40" y2="203.20" stroke="#111" stroke-width="0.7" stroke-dasharray="5,3"/>
<line x1="872.30" y1="156.20" x2="877.30" y2="156.20" stroke="#111" stroke-width="0.7"/>
<line x1="874.80" y1="153.70" x2="874.80" y2="158.70" stroke="#111" stroke-width="0.7"/>
<line x1="842.76" y1="174.70" x2="874.80" y2="156.20" stroke="#111" stroke-width="0.7" stroke-dasharray="5,3"/>
<line x1="872.30" y1="203.20" x2="877.30" y2="203.20" stroke="#111" stroke-width="0.7"/>
<line x1="874.80" y1="200.70" x2="874.80" y2="205.70" stroke="#111" stroke-width="0.7"/>
<line x1="842.76" y1="184.70" x2="874.80" y2="203.20" stroke="#111" stroke-width="0.7" stroke-dasharray="5,3"/>
<line x1="880.87" y1="152.70" x2="911.18" y2="135.20" stroke="#111" stroke-width="0.85"/>
<line x1="880.87" y1="206.70" x2="911.18" y2="224.20" stroke="#111" stroke-width="0.85"/>
<path d="M910.19,137.52 A87.00,87.00 0 0 1 910.19,221.88" stroke="#111" stroke-width="0.85" fill="none"/>
<path d="M910.19,137.52 L913.12,152.52 L915.25,150.04 L918.50,150.34 Z" fill="#111" stroke="#111" stroke-width="0.5"/>
<path d="M910.19,221.88 L918.50,209.06 L915.25,209.36 L913.12,206.88 Z" fill="#111" stroke="#111" stroke-width="0.5"/>
<text transform="translate(931.30,165.10) rotate(90) scale(0.9,1)" x="0" y="7.00" font-size="19.55" text-anchor="middle" textLength="26.5" lengthAdjust="spacing" font-family="Liberation Sans, sans-serif" font-style="italic" fill="#1c1c1c" stroke="#fff" stroke-width="0.2">60°</text>
<line x1="743.90" y1="211.50" x2="787.70" y2="197.70" stroke="#111" stroke-width="0.85"/>
<path d="M787.70,197.70 L772.50,199.23 L774.77,201.57 L774.16,204.78 Z" fill="#111" stroke="#111" stroke-width="0.5"/>
<line x1="814.00" y1="187.70" x2="792.80" y2="193.00" stroke="#111" stroke-width="0.85"/>
<path d="M792.80,193.00 L808.06,192.18 L805.90,189.73 L806.65,186.55 Z" fill="#111" stroke="#111" stroke-width="0.5"/>
<g transform="translate(754.30,195.70) rotate(0) skewY(-17)"><path d="M-11.40,7.00 L-7.20,-7.00 L-11.40,-3.40" stroke="#2a2a2a" stroke-width="1.1" fill="none" stroke-linejoin="round"/><text transform="translate(-2.30,0) scale(0.85,1)" x="0" y="7.00" font-size="19.55" text-anchor="middle" font-family="Liberation Sans, sans-serif" font-style="italic" fill="#1c1c1c" stroke="#fff" stroke-width="0.2">2</text><text transform="translate(2.60,0) scale(0.85,1)" x="0" y="7.00" font-size="19.55" text-anchor="middle" font-family="Liberation Sans, sans-serif" font-style="italic" fill="#1c1c1c" stroke="#fff" stroke-width="0.2">,</text><text transform="translate(8.30,0) scale(0.85,1)" x="0" y="7.00" font-size="19.55" text-anchor="middle" font-family="Liberation Sans, sans-serif" font-style="italic" fill="#1c1c1c" stroke="#fff" stroke-width="0.2">5</text></g>
<line x1="1003.00" y1="216.00" x2="1003.00" y2="281.00" stroke="#111" stroke-width="0.85"/>
<line x1="1016.60" y1="222.00" x2="1016.60" y2="281.00" stroke="#111" stroke-width="0.85"/>
<line x1="963.30" y1="277.80" x2="1035.00" y2="277.80" stroke="#111" stroke-width="0.85"/>
<path d="M1003.00,277.80 L988.00,274.90 L989.50,277.80 L988.00,280.70 Z" fill="#111" stroke="#111" stroke-width="0.5"/>
<path d="M1016.60,277.80 L1031.60,280.70 L1030.10,277.80 L1031.60,274.90 Z" fill="#111" stroke="#111" stroke-width="0.5"/>
<g transform="translate(978.30,265.90) rotate(0)"><path d="M-11.63,7.10 L-7.37,-7.10 L-11.57,-3.50" stroke="#2a2a2a" stroke-width="1.1" fill="none" stroke-linejoin="round"/><text transform="translate(-3.30,0) scale(0.88,1)" x="0" y="7.10" font-size="19.83" text-anchor="middle" font-family="Liberation Sans, sans-serif" font-style="italic" fill="#1c1c1c" stroke="#fff" stroke-width="0.2">2</text><text transform="translate(1.20,0) scale(0.88,1)" x="0" y="7.10" font-size="19.83" text-anchor="middle" font-family="Liberation Sans, sans-serif" font-style="italic" fill="#1c1c1c" stroke="#fff" stroke-width="0.2">,</text><text transform="translate(8.20,0) scale(0.88,1)" x="0" y="7.10" font-size="19.83" text-anchor="middle" font-family="Liberation Sans, sans-serif" font-style="italic" fill="#1c1c1c" stroke="#fff" stroke-width="0.2">6</text></g>
<line x1="512.00" y1="359.30" x2="1162.00" y2="359.30" stroke="#111" stroke-width="1.1"/>
<line x1="522.00" y1="363.20" x2="1152.20" y2="363.20" stroke="#111" stroke-width="1.3"/>
<line x1="522.00" y1="367.30" x2="1152.20" y2="367.30" stroke="#111" stroke-width="1.8"/>
<line x1="522.00" y1="370.40" x2="1152.20" y2="370.40" stroke="#111" stroke-width="1.6"/>
<line x1="522.00" y1="375.10" x2="1152.20" y2="375.10" stroke="#777" stroke-width="1.0"/>
<line x1="522.00" y1="412.60" x2="1152.20" y2="412.60" stroke="#111" stroke-width="1.5"/>
<line x1="522.00" y1="414.60" x2="1152.20" y2="414.60" stroke="#111" stroke-width="1.5"/>
<line x1="513.00" y1="435.80" x2="1161.00" y2="435.80" stroke="#111" stroke-width="1.1"/>
<line x1="521.80" y1="362.00" x2="521.80" y2="435.80" stroke="#111" stroke-width="1.1"/>
<path d="M512,357.8 L525,357.8 L525,363" stroke="#111" stroke-width="1.1" fill="none"/>
<path d="M512,357.8 L512,364 Q510,367 512,370 L507.8,402 L516.4,402 L516.4,409" stroke="#111" stroke-width="1.1" fill="none"/>
<path d="M507.8,402 Q505.5,405 506,412 L506,424 Q507,431 516.4,435.8" stroke="#111" stroke-width="1.1" fill="none"/>
<path d="M513,369 L508.7,400" stroke="#111" stroke-width="1.6" fill="none"/>
<line x1="517.30" y1="363.00" x2="517.30" y2="392.00" stroke="#111" stroke-width="0.8"/>
<line x1="517.30" y1="392.00" x2="521.80" y2="392.00" stroke="#111" stroke-width="0.8"/>
<path d="M510,409 L510,427 L517,434" stroke="#111" stroke-width="0.7" fill="none"/>
<line x1="1152.40" y1="362.00" x2="1152.40" y2="435.80" stroke="#111" stroke-width="1.1"/>
<path d="M1162.2,357.8 L1149.2,357.8 L1149.2,363" stroke="#111" stroke-width="1.1" fill="none"/>
<path d="M1162.2,357.8 L1162.2,364 Q1164.2,367 1162.2,370 L1166.4,402 L1157.8,402 L1157.8,409" stroke="#111" stroke-width="1.1" fill="none"/>
<path d="M1166.4,402 Q1168.7,405 1168.2,412 L1168.2,424 Q1167.2,431 1157.8,435.8" stroke="#111" stroke-width="1.1" fill="none"/>
<path d="M1161.2,369 L1165.5,400" stroke="#111" stroke-width="1.6" fill="none"/>
<line x1="1156.90" y1="363.00" x2="1156.90" y2="392.00" stroke="#111" stroke-width="0.8"/>
<line x1="1156.90" y1="392.00" x2="1152.40" y2="392.00" stroke="#111" stroke-width="0.8"/>
<path d="M1164.2,409 L1164.2,427 L1157.2,434" stroke="#111" stroke-width="0.7" fill="none"/>
<line x1="506.00" y1="409.00" x2="506.00" y2="471.00" stroke="#111" stroke-width="0.85"/>
<line x1="1168.20" y1="412.80" x2="1168.20" y2="471.00" stroke="#111" stroke-width="0.85"/>
<line x1="506.00" y1="468.20" x2="1168.20" y2="468.20" stroke="#111" stroke-width="0.85"/>
<path d="M506.00,468.20 L521.00,471.10 L519.50,468.20 L521.00,465.30 Z" fill="#111" stroke="#111" stroke-width="0.5"/>
<path d="M1168.20,468.20 L1153.20,465.30 L1154.70,468.20 L1153.20,471.10 Z" fill="#111" stroke="#111" stroke-width="0.5"/>
<text transform="translate(840.90,456.40) rotate(0) scale(0.86,1)" x="0" y="7.00" font-size="19.55" text-anchor="middle" textLength="32.0" lengthAdjust="spacing" font-family="Liberation Sans, sans-serif" font-style="italic" fill="#1c1c1c" stroke="#fff" stroke-width="0.2">632</text>
</svg></body></html>
